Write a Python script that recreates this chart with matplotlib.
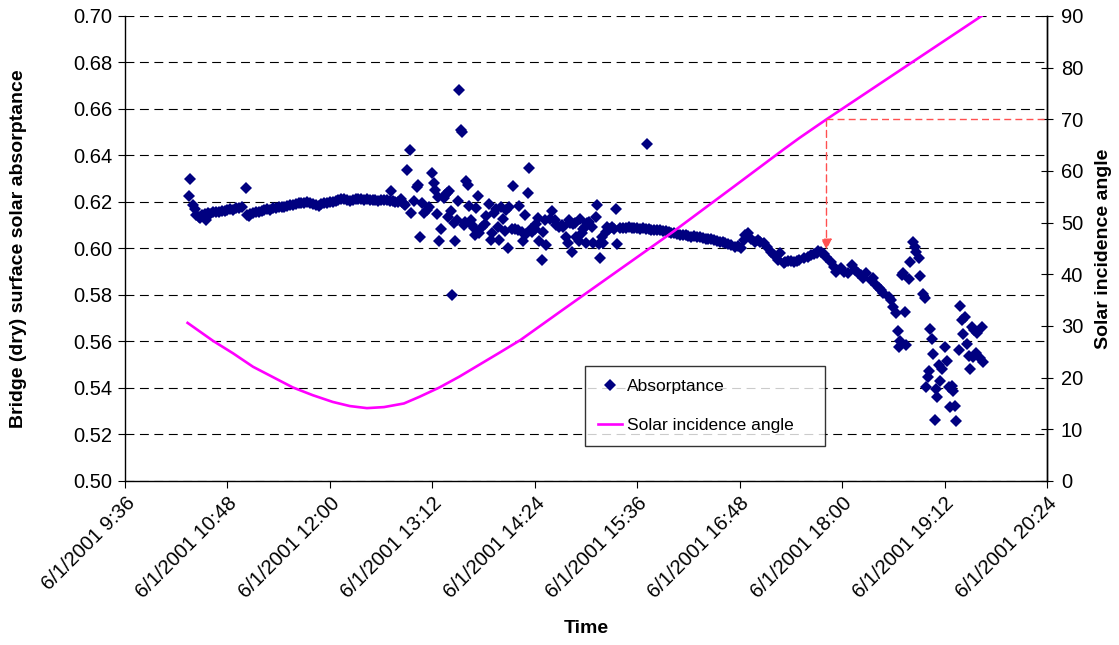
import numpy as np
import pandas as pd
import matplotlib
matplotlib.use('Agg')
import matplotlib.pyplot as plt
import matplotlib.dates as mdates

plt.rcParams['font.family'] = ['Liberation Sans', 'DejaVu Sans']

DAY = '2001-06-01 '

# measured absorptance (time of day, value)
abs_time = [
    '10:21', '10:22', '10:24', '10:25', '10:26', '10:28', '10:29', '10:30', '10:32', '10:33',
    '10:34', '10:36', '10:38', '10:40', '10:42', '10:44', '10:46', '10:48', '10:50', '10:52',
    '10:54', '10:56', '10:58', '11:01', '11:02', '11:03', '11:04', '11:06', '11:08', '11:10',
    '11:12', '11:14', '11:16', '11:18', '11:20', '11:22', '11:24', '11:26', '11:28', '11:30',
    '11:32', '11:34', '11:36', '11:38', '11:40', '11:42', '11:44', '11:46', '11:48', '11:50',
    '11:52', '11:54', '11:56', '11:58', '12:00', '12:02', '12:04', '12:06', '12:08', '12:10',
    '12:12', '12:14', '12:16', '12:18', '12:20', '12:22', '12:24', '12:26', '12:28', '12:30',
    '12:32', '12:34', '12:36', '12:38', '12:40', '12:42', '12:43', '12:44', '12:46', '12:48',
    '12:50', '12:51', '12:52', '12:53', '12:54', '12:56',
    '12:57', '12:59', '13:01', '13:02', '13:03', '13:05', '13:06', '13:08', '13:10', '13:12',
    '13:13', '13:14', '13:15', '13:16', '13:17', '13:18', '13:20', '13:21', '13:22', '13:23',
    '13:24', '13:25', '13:26', '13:27', '13:28', '13:29', '13:30', '13:31', '13:32', '13:33',
    '13:34', '13:35', '13:36', '13:37', '13:38', '13:39', '13:40', '13:41', '13:42', '13:43',
    '13:44', '13:45', '13:47', '13:49', '13:50', '13:52', '13:53', '13:54', '13:55', '13:57',
    '13:58', '13:59', '14:00', '14:02', '14:03', '14:04', '14:05', '14:06', '14:08', '14:09',
    '14:10', '14:12', '14:13', '14:15', '14:16', '14:17', '14:18', '14:19', '14:20', '14:21',
    '14:22', '14:23', '14:24', '14:25', '14:26', '14:27', '14:29', '14:30', '14:31', '14:32',
    '14:35', '14:36', '14:38', '14:39', '14:41', '14:43', '14:44', '14:46', '14:47', '14:48',
    '14:49', '14:50', '14:51', '14:52', '14:53', '14:55', '14:56', '14:57', '14:58', '14:59',
    '15:00', '15:01', '15:02', '15:04', '15:05', '15:07', '15:08', '15:09', '15:10', '15:11',
    '15:12', '15:14', '15:15', '15:16', '15:18', '15:20', '15:21', '15:22',
    '15:24', '15:26', '15:28', '15:30', '15:32', '15:34', '15:36', '15:38', '15:40', '15:42',
    '15:43', '15:44', '15:46', '15:48', '15:50', '15:52', '15:54', '15:56', '15:58', '16:00',
    '16:02', '16:04', '16:06', '16:08', '16:10', '16:12', '16:14', '16:16', '16:18', '16:20',
    '16:22', '16:24', '16:26', '16:28', '16:30', '16:32', '16:34', '16:36', '16:38', '16:40',
    '16:42', '16:45', '16:47', '16:49', '16:51', '16:52', '16:54', '16:56', '16:59', '17:01',
    '17:02', '17:05', '17:07', '17:10', '17:12', '17:15', '17:16', '17:19', '17:20', '17:22',
    '17:24', '17:26', '17:28', '17:30', '17:33', '17:36', '17:38', '17:40', '17:42', '17:43',
    '17:45', '17:47', '17:49', '17:52', '17:54', '17:56', '17:59', '18:01', '18:04', '18:07',
    '18:09', '18:11', '18:13', '18:15', '18:17', '18:20', '18:22', '18:24', '18:26', '18:27',
    '18:29', '18:33', '18:34', '18:36', '18:38', '18:39', '18:40', '18:41', '18:42', '18:43',
    '18:44', '18:45', '18:47', '18:48', '18:50', '18:51', '18:52', '18:54', '18:55', '18:57',
    '18:58', '18:59', '19:00', '19:01', '19:02', '19:03', '19:04', '19:05', '19:06', '19:07',
    '19:08', '19:09', '19:10', '19:12', '19:14', '19:15', '19:16', '19:17', '19:18', '19:19',
    '19:20', '19:22', '19:23', '19:24', '19:25', '19:26', '19:28', '19:29', '19:30', '19:31',
    '19:32', '19:33', '19:34', '19:35', '19:37', '19:38', '19:39',
]
abs_value = [
    0.6227, 0.6298, 0.6187, 0.6168, 0.6144, 0.6137, 0.6130, 0.6144, 0.6150, 0.6123,
    0.6152, 0.6150, 0.6155, 0.6158, 0.6158, 0.6162, 0.6160, 0.6166, 0.6168, 0.6165,
    0.6172, 0.6176, 0.6180, 0.6259, 0.6144, 0.6140, 0.6148, 0.6152, 0.6156, 0.6158,
    0.6160, 0.6165, 0.6168, 0.6165, 0.6172, 0.6175, 0.6177, 0.6180, 0.6178, 0.6183,
    0.6185, 0.6188, 0.6190, 0.6195, 0.6197, 0.6195, 0.6198, 0.6197, 0.6190, 0.6186,
    0.6183, 0.6190, 0.6194, 0.6197, 0.6200, 0.6200, 0.6203, 0.6208, 0.6212, 0.6215,
    0.6208, 0.6205, 0.6210, 0.6212, 0.6215, 0.6212, 0.6208, 0.6212, 0.6208, 0.6210,
    0.6208, 0.6205, 0.6208, 0.6210, 0.6208, 0.6205, 0.6247, 0.6205, 0.6200, 0.6198,
    0.6215, 0.6200, 0.6190, 0.6187, 0.6338, 0.6424,
    0.6154, 0.6205, 0.6263, 0.6273, 0.6051, 0.6194, 0.6151, 0.6166, 0.6177, 0.6323,
    0.6280, 0.6252, 0.6148, 0.6223, 0.6034, 0.6083, 0.6216, 0.6230, 0.6240, 0.6134,
    0.6249, 0.6160, 0.5800, 0.6111, 0.6031, 0.6123, 0.6204, 0.6682, 0.6510, 0.6502,
    0.6101, 0.6115, 0.6290, 0.6273, 0.6184, 0.6123, 0.6101, 0.6087, 0.6058, 0.6176,
    0.6226, 0.6065, 0.6094, 0.6105, 0.6141, 0.6191, 0.6037, 0.6068, 0.6154, 0.6168,
    0.6094, 0.6037, 0.6177, 0.6126, 0.6077, 0.6166, 0.6004, 0.6180, 0.6083, 0.6269,
    0.6083, 0.6080, 0.6183, 0.6072, 0.6034, 0.6144, 0.6062, 0.6240, 0.6348, 0.6083,
    0.6072, 0.6090, 0.6083, 0.6105, 0.6130, 0.6034, 0.5950, 0.6070, 0.6123, 0.6015,
    0.6126, 0.6163, 0.6123, 0.6101, 0.6094, 0.6101, 0.6094, 0.6051, 0.6025, 0.6123,
    0.6108, 0.5985, 0.6105, 0.6111, 0.6051, 0.6034, 0.6127, 0.6065, 0.6083, 0.6094,
    0.6022, 0.6111, 0.6115, 0.6094, 0.6022, 0.6137, 0.6187, 0.6019, 0.5958, 0.6051,
    0.6022, 0.6072, 0.6091, 0.6085, 0.6094, 0.6083, 0.6168, 0.6019,
    0.6088, 0.6087, 0.6090, 0.6091, 0.6088, 0.6090, 0.6087, 0.6085, 0.6086, 0.6084,
    0.6450, 0.6083, 0.6080, 0.6081, 0.6079, 0.6078, 0.6077, 0.6075, 0.6072, 0.6068,
    0.6066, 0.6063, 0.6060, 0.6058, 0.6060, 0.6055, 0.6051, 0.6053, 0.6050, 0.6048,
    0.6045, 0.6042, 0.6039, 0.6040, 0.6037, 0.6033, 0.6030, 0.6026, 0.6022, 0.6018,
    0.6015, 0.6008, 0.6011, 0.6001, 0.6035, 0.6058, 0.6065, 0.6039, 0.6029, 0.6035,
    0.6030, 0.6022, 0.6008, 0.5986, 0.5972, 0.5951, 0.5979, 0.5939, 0.5942, 0.5945,
    0.5948, 0.5944, 0.5948, 0.5950, 0.5958, 0.5965, 0.5972, 0.5978, 0.5982, 0.5989,
    0.5985, 0.5976, 0.5965, 0.5943, 0.5922, 0.5900, 0.5915, 0.5900, 0.5893, 0.5929,
    0.5908, 0.5895, 0.5886, 0.5872, 0.5893, 0.5865, 0.5872, 0.5843, 0.5830, 0.5822,
    0.5807, 0.5793, 0.5778, 0.5750, 0.5721, 0.5646, 0.5577, 0.5603, 0.5886, 0.5896,
    0.5728, 0.5585, 0.5868, 0.5943, 0.6029, 0.6008, 0.5986, 0.5958, 0.5882, 0.5804,
    0.5786, 0.5406, 0.5446, 0.5473, 0.5653, 0.5611, 0.5546, 0.5262, 0.5394, 0.5363,
    0.5499, 0.5430, 0.5480, 0.5577, 0.5517, 0.5406, 0.5318, 0.5409, 0.5385, 0.5323,
    0.5260, 0.5563, 0.5753, 0.5692, 0.5632, 0.5707, 0.5589, 0.5537, 0.5480, 0.5661,
    0.5534, 0.5650, 0.5551, 0.5635, 0.5527, 0.5664, 0.5512,
]

# solar incidence angle (deg)
angle_time = ['10:20', '10:38', '10:52', '11:06', '11:20', '11:34', '11:48', '12:02', '12:14',
              '12:26', '12:38', '12:52', '13:03', '13:17', '13:31', '13:45', '13:59', '14:14',
              '14:44', '15:24', '16:01', '16:44', '17:19', '17:30', '17:49', '18:50', '19:38']
angle_value = [30.6, 27.1, 24.7, 22.1, 20.1, 18.1, 16.6, 15.3, 14.5,
               14.1, 14.3, 15.0, 16.3, 18.1, 20.2, 22.5, 24.8, 27.3,
               33.2, 41.0, 48.2, 57.0, 64.2, 66.4, 70.0, 81.2, 90.0]

# red pointer: incidence angle 70 deg -> absorptance
mark_time = '17:49'
mark_angle = 70
mark_abs = 0.5995

x_start = pd.Timestamp(DAY + '09:36')
x_end = pd.Timestamp(DAY + '20:24')
x_ticks = pd.date_range(x_start, x_end, freq='72min')

t_abs = mdates.date2num(pd.to_datetime([DAY + t for t in abs_time]))
t_ang = mdates.date2num(pd.to_datetime([DAY + t for t in angle_time]))
t_mark = mdates.date2num(pd.Timestamp(DAY + mark_time))
x0 = mdates.date2num(x_start)
x1 = mdates.date2num(x_end)

fig = plt.figure(figsize=(11.19, 6.45), dpi=100)
ax = fig.add_axes([0.1117, 0.2543, 0.8240, 0.7209])
ax2 = ax.twinx()

ax.plot(t_abs, abs_value, linestyle='none', marker='D', markersize=5.8,
        color='#000080', markeredgewidth=0, label='Absorptance')
ax2.plot(t_ang, angle_value, color='#FF00FF', linewidth=1.9,
         label='Solar incidence angle')

# pointer lines
ax2.plot([t_mark, x1], [mark_angle, mark_angle], color='#FF5050',
         linestyle=(0, (5, 3)), linewidth=1.0)
ax.annotate('', xy=(t_mark, mark_abs), xycoords=ax.transData,
            xytext=(t_mark, mark_angle), textcoords=ax2.transData,
            arrowprops=dict(arrowstyle='-|>', color='#FF5050', linestyle=(0, (5, 3)),
                            linewidth=1.0, mutation_scale=16, shrinkA=0, shrinkB=0))

ax.set_xlim(x0, x1)
ax.set_ylim(0.50, 0.70)
ax2.set_ylim(0, 90)

yt = np.arange(0.50, 0.7001, 0.02)
ax.set_yticks(yt)
ax.set_yticklabels([f'{v:.2f}' for v in yt])
ax2.set_yticks(np.arange(0, 91, 10))
ax.set_xticks(mdates.date2num(x_ticks))
ax.set_xticklabels([f'{d.month}/{d.day}/{d.year} {d.hour}:{d.minute:02d}' for d in x_ticks],
                   rotation=45, ha='right', rotation_mode='anchor')

ax.yaxis.grid(True, color='black', linestyle=(0, (8, 5)), linewidth=0.8)
ax.set_axisbelow(True)

for a in (ax, ax2):
    a.spines['top'].set_visible(False)
    for s in a.spines.values():
        s.set_linewidth(1.0)
ax2.spines['left'].set_visible(False)
ax2.spines['bottom'].set_visible(False)

ax.tick_params(axis='y', direction='out', length=5, labelsize=14.5, pad=4)
ax.tick_params(axis='x', direction='out', length=5, labelsize=14.5, pad=4)
ax2.tick_params(axis='y', direction='inout', length=8, labelsize=14.5, pad=6)

ax.set_xlabel('Time', fontsize=14, fontweight='bold')
ax.set_ylabel('Bridge (dry) surface solar absorptance', fontsize=14, fontweight='bold')
ax2.set_ylabel('Solar incidence angle', fontsize=14, fontweight='bold')
ax.xaxis.set_label_coords(0.5, -0.300)
ax.yaxis.set_label_coords(-0.106, 0.5)
ax2.yaxis.set_label_coords(1.052, 0.5)

h1, l1 = ax.get_legend_handles_labels()
h2, l2 = ax2.get_legend_handles_labels()
leg = ax2.legend(h1 + h2[:1], l1 + l2[:1], loc='lower left',
                 bbox_to_anchor=(0.499, 0.075, 0.26, 0.172), mode='expand',
                 borderaxespad=0, fontsize=12.5, frameon=True, fancybox=False,
                 labelspacing=1.35, handlelength=1.4, borderpad=0.75,
                 handletextpad=0.25, alignment='center')
leg.get_frame().set_edgecolor('black')
leg.get_frame().set_linewidth(1.0)

fig.savefig('out.png', dpi=100)
